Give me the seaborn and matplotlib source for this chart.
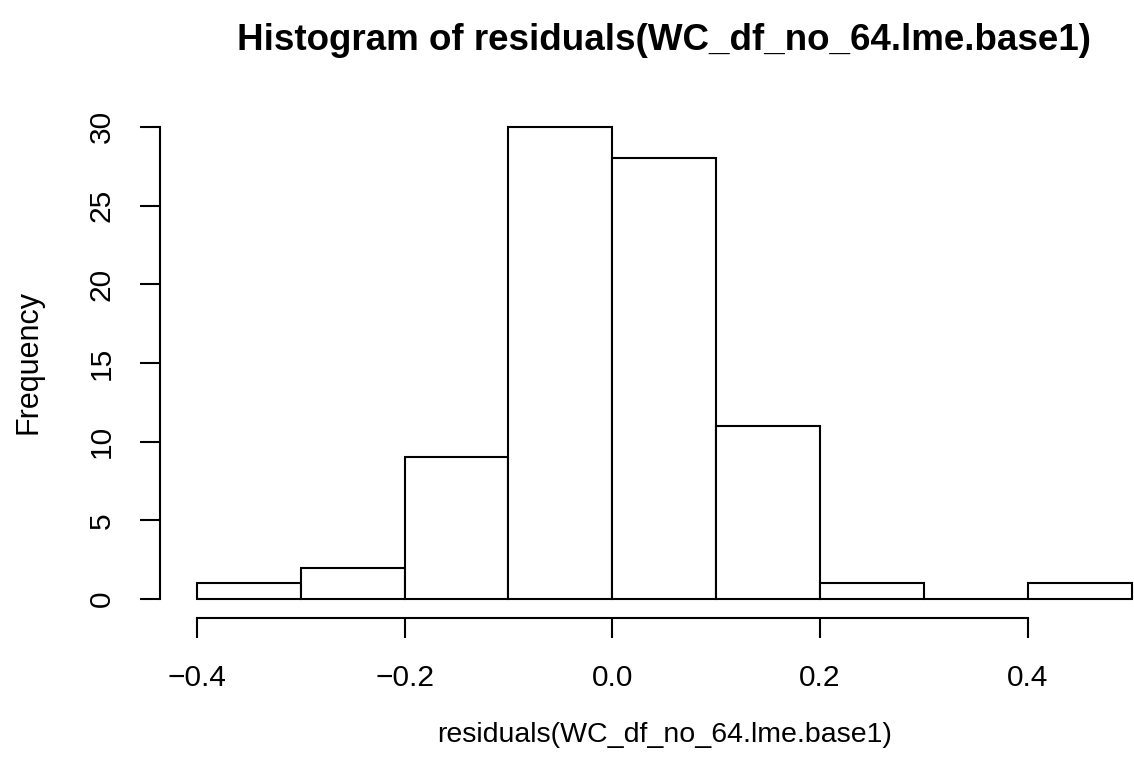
import numpy as np
import pandas as pd
import matplotlib
matplotlib.use("Agg")
import matplotlib.pyplot as plt
import seaborn as sns

# Histogram bins and per-bin frequencies of the model residuals
bin_edges = [-0.4, -0.3, -0.2, -0.1, 0.0, 0.1, 0.2, 0.3, 0.4, 0.5]
frequencies = [1, 2, 9, 30, 28, 11, 1, 0, 1]
x_ticks = [-0.4, -0.2, 0.0, 0.2, 0.4]
x_tick_labels = ["\u22120.4", "\u22120.2", "0.0", "0.2", "0.4"]
y_ticks = [0, 5, 10, 15, 20, 25, 30]

title = "Histogram of residuals(WC_df_no_64.lme.base1)"
x_label = "residuals(WC_df_no_64.lme.base1)"
y_label = "Frequency"

sns.set_theme(style="white")
plt.rcParams["font.family"] = ["Liberation Sans", "DejaVu Sans"]

W, H = 1134, 772
fig = plt.figure(figsize=(W / 100, H / 100), dpi=100)
fig.patch.set_facecolor("white")

# plot region in pixels (R-style 4% padding around the data range)
left_px, right_px, top_px, bottom_px = 159.5, 1169.0, 108.0, 618.0
ax = fig.add_axes([left_px / W, 1 - bottom_px / H,
                   (right_px - left_px) / W, (bottom_px - top_px) / H])
ax.set_facecolor("white")

edges = np.array(bin_edges)
centers = (edges[:-1] + edges[1:]) / 2
df = pd.DataFrame({"residual": centers, "count": frequencies})

sns.histplot(data=df, x="residual", weights="count", bins=list(bin_edges),
             color="white", edgecolor="black", linewidth=1.5, alpha=1.0,
             ax=ax, clip_on=False)

xr = edges[-1] - edges[0]
ax.set_xlim(edges[0] - 0.04 * xr, edges[-1] + 0.04 * xr)
ymax = max(frequencies)
ax.set_ylim(-0.04 * ymax, ymax * 1.04)

for s in ["top", "right"]:
    ax.spines[s].set_visible(False)
for s in ["left", "bottom"]:
    ax.spines[s].set_visible(True)
    ax.spines[s].set_color("black")
    ax.spines[s].set_linewidth(1.5)
ax.spines["bottom"].set_bounds(x_ticks[0], x_ticks[-1])
ax.spines["left"].set_bounds(y_ticks[0], y_ticks[-1])

ax.set_xticks(x_ticks)
ax.set_xticklabels(x_tick_labels)
ax.set_yticks(y_ticks)
ax.set_yticklabels([str(v) for v in y_ticks], rotation=90, va="center")
ax.tick_params(axis="both", which="major", direction="out", length=14.4,
               width=1.5, color="black", labelsize=21.5, labelcolor="black",
               bottom=True, left=True)
ax.tick_params(axis="x", pad=19)
ax.tick_params(axis="y", pad=17)
ax.grid(False)

ax.set_xlabel("")
ax.set_ylabel("")
cx = (left_px + right_px) / 2 / W
fig.text(cx, 1 - 50 / H, title, ha="center", va="baseline",
         fontsize=26.5, fontweight="bold", color="black")
fig.text(cx, 1 - 735 / H, x_label, ha="center", va="center",
         fontsize=20.5, color="black")
fig.text(29 / W, 1 - 362 / H, y_label, ha="center", va="center",
         rotation=90, fontsize=22, color="black")

fig.savefig("out.png", dpi=100, facecolor="white")
